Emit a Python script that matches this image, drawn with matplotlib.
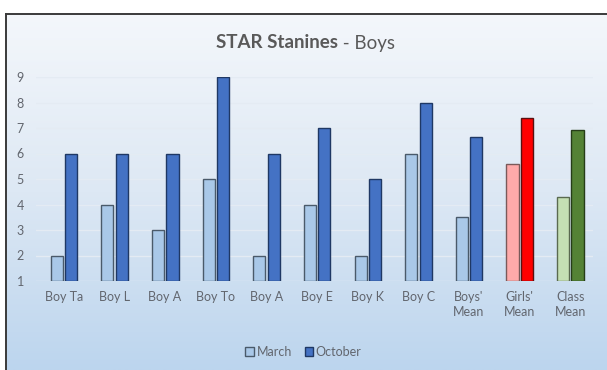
import matplotlib
matplotlib.use("Agg")
import matplotlib.pyplot as plt
import numpy as np
from matplotlib.patches import Patch
from matplotlib.colors import LinearSegmentedColormap

categories = ["Boy Ta", "Boy L", "Boy A", "Boy To", "Boy A", "Boy E", "Boy K",
              "Boy C", "Boys'\nMean", "Girls'\nMean", "Class\nMean"]
march = [2, 4, 3, 5, 2, 4, 2, 6, 3.52, 5.59, 4.29]
october = [6, 6, 6, 9, 6, 7, 5, 8, 6.63, 7.38, 6.92]
yticks = [1, 2, 3, 4, 5, 6, 7, 8, 9]

W, H = 607, 370
fig = plt.figure(figsize=(W / 100, H / 100), dpi=100)
fig.patch.set_facecolor("white")

FONT = ["Lato", "DejaVu Sans"]
TXT = "#62666e"

# background frame with gradient
bg = fig.add_axes([0, 0, 1, 1], zorder=0)
bg.set_xlim(0, W)
bg.set_ylim(H, 0)
bg.axis("off")
cmap = LinearSegmentedColormap.from_list("g", ["#f4f7fb", "#dde8f4", "#bcd5ee"])
grad = np.linspace(0, 1, 256).reshape(-1, 1)
bg.imshow(grad, cmap=cmap, aspect="auto", extent=[6, W, H, 14], zorder=0)
bg.plot([6, 6], [H, 14], color="#3a3a3a", lw=1.4, zorder=2)
bg.plot([6, W], [14, 14], color="#3a3a3a", lw=1.4, zorder=2)

ax = fig.add_axes([36 / W, 89 / H, (593 - 36) / W, (281 - 77) / H], zorder=1)
ax.set_facecolor("none")

x = np.arange(len(categories))
m_face = ["#a9c8e8"] * 8 + ["#a9c8e8", "#ffaaaa", "#c5e0b4"]
m_edge = ["#4a5a6a"] * 8 + ["#4a5a6a", "#7a5a5a", "#5a6a50"]
o_face = ["#4472c4"] * 8 + ["#4472c4", "#ff0000", "#548235"]
o_edge = ["#1f3864"] * 8 + ["#1f3864", "#5a1010", "#263d18"]

bw = 0.24
ax.bar(x - 0.14, np.array(march) - 1, bottom=1, width=bw,
       color=m_face, edgecolor=m_edge, linewidth=1.0, zorder=3)
ax.bar(x + 0.145, np.array(october) - 1, bottom=1, width=bw,
       color=o_face, edgecolor=o_edge, linewidth=1.0, zorder=3)

ax.set_xlim(-0.55, 10.45)
ax.set_ylim(1, 9)
ax.set_yticks(yticks)
ax.set_yticklabels([str(v) for v in yticks], fontsize=9, color=TXT, family=FONT)
ax.set_xticks(x)
ax.set_xticklabels(categories, fontsize=9, color=TXT, family=FONT, linespacing=1.35)
ax.tick_params(axis="both", length=0)
ax.tick_params(axis="y", pad=14)
ax.tick_params(axis="x", pad=7)
for lab in ax.get_yticklabels():
    lab.set_horizontalalignment("left")
ax.grid(axis="y", color="#e4ebf3", linewidth=1.0, zorder=0)
for s in ax.spines.values():
    s.set_visible(False)

# title (two parts, centred as a whole)
ty = 1 - 43 / H
t1 = fig.text(0.5, ty, "STAR Stanines", fontsize=13.5, fontweight="bold",
              color="#595959", family=FONT, ha="left", va="center")
t2 = fig.text(0.5, ty, " - Boys", fontsize=13.5, color="#595959", family=FONT,
              ha="left", va="center")
fig.canvas.draw()
r = fig.canvas.get_renderer()
w1 = t1.get_window_extent(r).width
w2 = t2.get_window_extent(r).width
cx = 305
start = cx - (w1 + w2) / 2
t1.set_x(start / W)
t2.set_x((start + w1) / W)

handles = [Patch(facecolor="#a9c8e8", edgecolor="#4a5a6a", label="March"),
           Patch(facecolor="#4472c4", edgecolor="#1f3864", label="October")]
fig.legend(handles=handles, loc="center", bbox_to_anchor=(0.5, 1 - 352 / H),
           ncol=2, frameon=False, prop={"family": FONT, "size": 9},
           handlelength=0.7, handleheight=0.7, handletextpad=0.2, columnspacing=1.0,
           labelcolor=TXT)

fig.savefig("out.png", dpi=100)
